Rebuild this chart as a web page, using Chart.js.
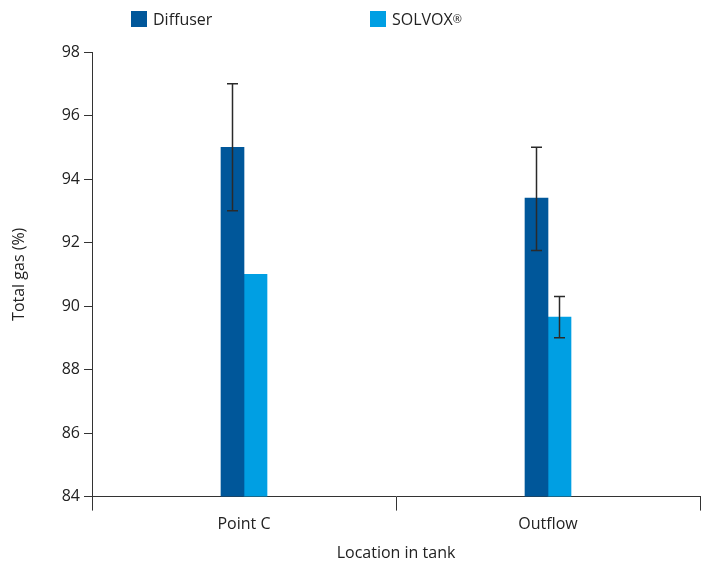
<!DOCTYPE html>
<html>
<head>
<meta charset="utf-8">
<script src="https://cdn.jsdelivr.net/npm/chart.js@4.4.0/dist/chart.umd.min.js"></script>
<style>
  html, body { margin: 0; padding: 0; background: #fff; }
  #wrap { position: relative; width: 716px; height: 563px; }
  canvas { position: absolute; left: 0; top: 0; }
  .leg { position: absolute; top: 8px; font-family: "Open Sans", "Noto Sans", sans-serif; font-size: 16px; color: #222; display: flex; align-items: center; }
  .leg span.box { display: inline-block; width: 16px; height: 16px; margin-right: 6px; }
  sup { font-size: 11px; position: relative; top: -1px; }
</style>
</head>
<body>
<div id="wrap">
  <canvas id="c" width="716" height="563"></canvas>
  <div class="leg" style="left:131px"><span class="box" style="background:#00579a"></span>Diffuser</div>
  <div class="leg" style="left:370px"><span class="box" style="background:#009fe3"></span>SOLVOX<sup>®</sup></div>
</div>
<script>
const categories = ["Point C", "Outflow"];
const seriesNames = ["Diffuser", "SOLVOX®"];
const diffuser = [95.0, 93.4];
const solvox = [91.0, 89.65];
const diffuserErrLow = [93.0, 91.75];
const diffuserErrHigh = [97.0, 95.0];
const solvoxErrLow = [null, 89.0];
const solvoxErrHigh = [null, 90.3];
const yTicks = [84, 86, 88, 90, 92, 94, 96, 98];

const errorBars = {
  id: 'errorBars',
  afterDatasetsDraw(chart) {
    const ctx = chart.ctx;
    const y = chart.scales.y;
    const errs = [[diffuserErrLow, diffuserErrHigh], [solvoxErrLow, solvoxErrHigh]];
    ctx.save();
    ctx.strokeStyle = '#2a2a2a';
    ctx.lineWidth = 1.5;
    errs.forEach((e, di) => {
      const meta = chart.getDatasetMeta(di);
      meta.data.forEach((bar, i) => {
        if (e[0][i] == null) return;
        const x = bar.x;
        const y1 = y.getPixelForValue(e[0][i]);
        const y2 = y.getPixelForValue(e[1][i]);
        ctx.beginPath();
        ctx.moveTo(x, y1); ctx.lineTo(x, y2);
        ctx.moveTo(x - 5.5, y1); ctx.lineTo(x + 5.5, y1);
        ctx.moveTo(x - 5.5, y2); ctx.lineTo(x + 5.5, y2);
        ctx.stroke();
      });
    });
    ctx.restore();
  }
};

const font = { family: '"Open Sans", "Noto Sans", sans-serif', size: 16 };

new Chart(document.getElementById('c'), {
  type: 'bar',
  data: {
    labels: categories,
    datasets: [
      { label: seriesNames[0], data: diffuser, backgroundColor: '#00579a', barThickness: 23 },
      { label: seriesNames[1], data: solvox, backgroundColor: '#009fe3', barThickness: 23 }
    ]
  },
  options: {
    responsive: false,
    animation: false,
    devicePixelRatio: 1,
    layout: { padding: { top: 52, right: 16, left: 0, bottom: 0 } },
    plugins: { legend: { display: false }, tooltip: { enabled: false } },
    scales: {
      x: {
        offset: true,
        grid: { offset: true, drawOnChartArea: false, drawTicks: true, tickLength: 14, color: '#333', lineWidth: 1 },
        border: { display: true, color: '#333', width: 1 },
        ticks: { color: '#222', font: font, padding: 4 },
        title: { display: true, text: 'Location in tank', color: '#222', font: font, padding: { top: 6, bottom: 0 } }
      },
      y: {
        min: 84, max: 98,
        afterBuildTicks(scale) { scale.ticks = yTicks.map(v => ({ value: v })); },
        afterFit(scale) { scale.width = 92; },
        grid: { drawOnChartArea: false, drawTicks: true, tickLength: 8, color: '#333' },
        border: { display: true, color: '#333', width: 1 },
        ticks: { color: '#222', font: font, padding: 4 },
        title: { display: true, text: 'Total gas (%)', color: '#222', font: font, padding: { top: 10, bottom: 6 } }
      }
    }
  },
  plugins: [errorBars]
});
</script>
</body>
</html>
